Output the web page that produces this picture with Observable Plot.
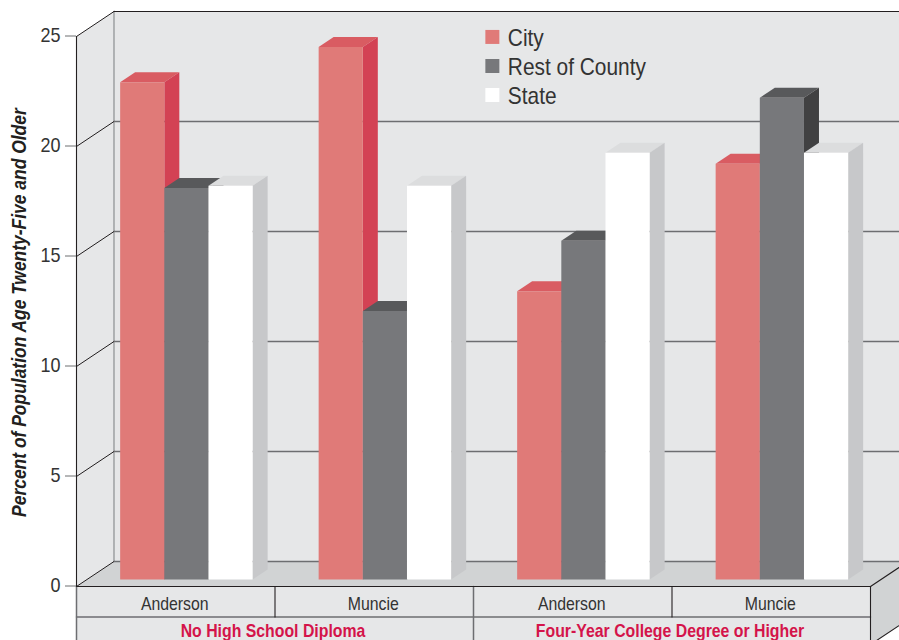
<!DOCTYPE html>
<html>
<head>
<meta charset="utf-8">
<script src="https://cdn.jsdelivr.net/npm/d3@7"></script>
<script src="https://cdn.jsdelivr.net/npm/@observablehq/plot@0.6"></script>
<style>
  html, body { margin: 0; padding: 0; background: #fff; }
</style>
</head>
<body>
<div id="chart"></div>
<script>
// Educational attainment: share of the population age 25+ by place and region.
const measures = ["No High School Diploma", "Four-Year College Degree or Higher"];
const places = ["Anderson", "Muncie", "Anderson", "Muncie"];
const seriesNames = ["City", "Rest of County", "State"];
const cityValues = [22.6, 24.2, 13.1, 18.9];
const restValues = [17.8, 12.2, 15.4, 21.9];
const stateValues = [17.9, 17.9, 19.4, 19.4];
const yTicks = [0, 5, 10, 15, 20, 25];
const yAxisTitle = "Percent of Population Age Twenty-Five and Older";

const seriesValues = [cityValues, restValues, stateValues];
const palette = [
  {front: "#e07a78", top: "#d95c62", side: "#d34254"},
  {front: "#77787b", top: "#58595b", side: "#414142"},
  {front: "#ffffff", top: "#dcddde", side: "#c7c8ca"}
];
const wallFill = "#e6e7e8";
const floorFill = "#d1d3d4";
const darkLine = "#231f20";
const midLine = "#6d6e71";

// Oblique projection: depth 0 is the front of the box, depth 1 the back wall.
const slotShear = 0.1889;
const valueShear = 1.136;
const project = (slot, value, depth = 0) => ({x: slot + depth * slotShear, y: value + depth * valueShear});

const tableRow = -1.386;
const tableBottom = -2.64;
const slotCount = places.length;
const barInset = 0.167;
const barWidth = 0.2225;
const barFront = 0.28;
const barBack = 0.68;

// Faces are collected back to front, then painted as closed polygons.
const faces = [];
const addFace = (fill, corners) => {
  const id = faces.length ? faces[faces.length - 1].id + 1 : 0;
  for (const c of corners) faces.push({id, fill, ...c});
};

addFace(wallFill, [project(0, 0, 1), project(slotCount, 0, 1), project(slotCount, 25, 1), project(0, 25, 1)]);
addFace(wallFill, [project(0, 0), project(0, 0, 1), project(0, 25, 1), project(0, 25)]);
addFace(floorFill, [project(0, 0), project(slotCount, 0), project(slotCount, 0, 1), project(0, 0, 1)]);
addFace(wallFill, [project(0, 0), project(slotCount, 0), project(slotCount, tableBottom), project(0, tableBottom)]);
addFace(floorFill, [project(slotCount, 0), project(slotCount, 0, 1), project(slotCount, tableBottom, 1), project(slotCount, tableBottom)]);

const backFaces = faces.length;

places.forEach((place, i) => {
  seriesNames.forEach((name, s) => {
    const v = seriesValues[s][i];
    const x0 = i + barInset + s * barWidth;
    const x1 = x0 + barWidth;
    const c = palette[s];
    addFace(c.top, [project(x0, v, barFront), project(x1, v, barFront), project(x1, v, barBack), project(x0, v, barBack)]);
    addFace(c.side, [project(x1, 0, barFront), project(x1, v, barFront), project(x1, v, barBack), project(x1, 0, barBack)]);
    addFace(c.front, [project(x0, 0, barFront), project(x1, 0, barFront), project(x1, v, barFront), project(x0, v, barFront)]);
  });
});

const polyline = segments => segments.flatMap((seg, id) => seg.map(p => ({...p, id})));
const backGrid = polyline(yTicks.filter(v => v < 25).map(v => [project(0, v, 1), project(slotCount, v, 1)]));
const wallSlants = polyline(yTicks.map(v => [project(0, v), project(0, v, 1)]));
const greyEdges = polyline([
  [project(0, tableRow), project(slotCount, tableRow)],
  [project(2, 0), project(2, tableBottom)],
  [project(0, 0), project(0, tableBottom)]
]);
const darkEdges = polyline([
  [project(0, 25, 1), project(slotCount, 25, 1)],
  [project(0, 0), project(slotCount, 0)],
  [project(0, 0), project(0, 25)],
  [project(1, 0), project(1, tableRow)],
  [project(3, 0), project(3, tableRow)],
  [project(slotCount, 0), project(slotCount, tableBottom)],
  [project(slotCount, 0), project(slotCount, 0, 1)],
  [project(slotCount, tableBottom), project(slotCount, tableBottom, 1)]
]);
const backLeftEdge = [project(0, 0, 1), project(0, 25, 1)];

const placeLabels = places.map((text, i) => ({text, x: i + 0.495, y: -0.82}));
const measureLabels = measures.map((text, i) => ({text, x: i * 2 + 0.99, y: -2.05}));
const legendRows = seriesNames.map((text, i) => ({text, fill: palette[i].front, x: 2.095, labelX: 2.173, y: 24.98 - i * 1.32, labelY: 24.91 - i * 1.32}));

const facePaint = {x: "x", y: "y", z: "id", fill: "fill", stroke: "none", curve: "linear-closed"};

const chart = Plot.plot({
  width: 899,
  height: 640,
  marginLeft: 76,
  marginRight: 29,
  marginTop: 36,
  marginBottom: 54,
  style: {background: "#fff", fontFamily: "'Liberation Sans', Arial, sans-serif", overflow: "hidden"},
  x: {domain: [0, slotCount], axis: null},
  y: {domain: [0, 25], axis: null},
  color: {type: "identity"},
  marks: [
    Plot.line(faces.slice(0, backFaces), facePaint),
    Plot.line(backGrid, {x: "x", y: "y", z: "id", stroke: midLine, strokeWidth: 1.5}),
    Plot.line(backLeftEdge, {x: "x", y: "y", stroke: "#939598", strokeWidth: 1.3}),
    Plot.line(wallSlants, {x: "x", y: "y", z: "id", stroke: darkLine, strokeWidth: 1}),
    Plot.line(greyEdges, {x: "x", y: "y", z: "id", stroke: midLine, strokeWidth: 1.5}),
    Plot.line(darkEdges, {x: "x", y: "y", z: "id", stroke: darkLine, strokeWidth: 1.1}),
    Plot.line(faces.slice(backFaces), facePaint),
    Plot.axisY({ticks: yTicks, anchor: "left", label: null, tickSize: 11, tickPadding: 5, dy: -0.5, fontSize: 20, stroke: midLine, color: "#333"}),
    Plot.text([yAxisTitle], {text: d => d, x: () => -0.287, y: () => 12.45, rotate: -90, fontSize: 19.4, fontWeight: "bold", fontStyle: "italic", fill: "#231f20"}),
    Plot.text(placeLabels, {text: "text", x: "x", y: "y", fontSize: 17.6, fill: "#333"}),
    Plot.text(measureLabels, {text: "text", x: "x", y: "y", fontSize: 17.6, fontWeight: "bold", fill: "#d4144a"}),
    Plot.dot(legendRows, {x: "x", y: "y", fill: "fill", symbol: "square", r: 7.9}),
    Plot.text(legendRows, {text: "text", x: "labelX", y: "labelY", textAnchor: "start", fontSize: 23.2, fill: "#333"})
  ]
});

// The lettering is a condensed grotesque, so narrow every label along its baseline.
d3.select(chart).selectAll("text").each(function () {
  const t = this.getAttribute("transform");
  if (t) this.setAttribute("transform", t + " scale(0.9,1)");
});

document.getElementById("chart").append(chart);
</script>
</body>
</html>
